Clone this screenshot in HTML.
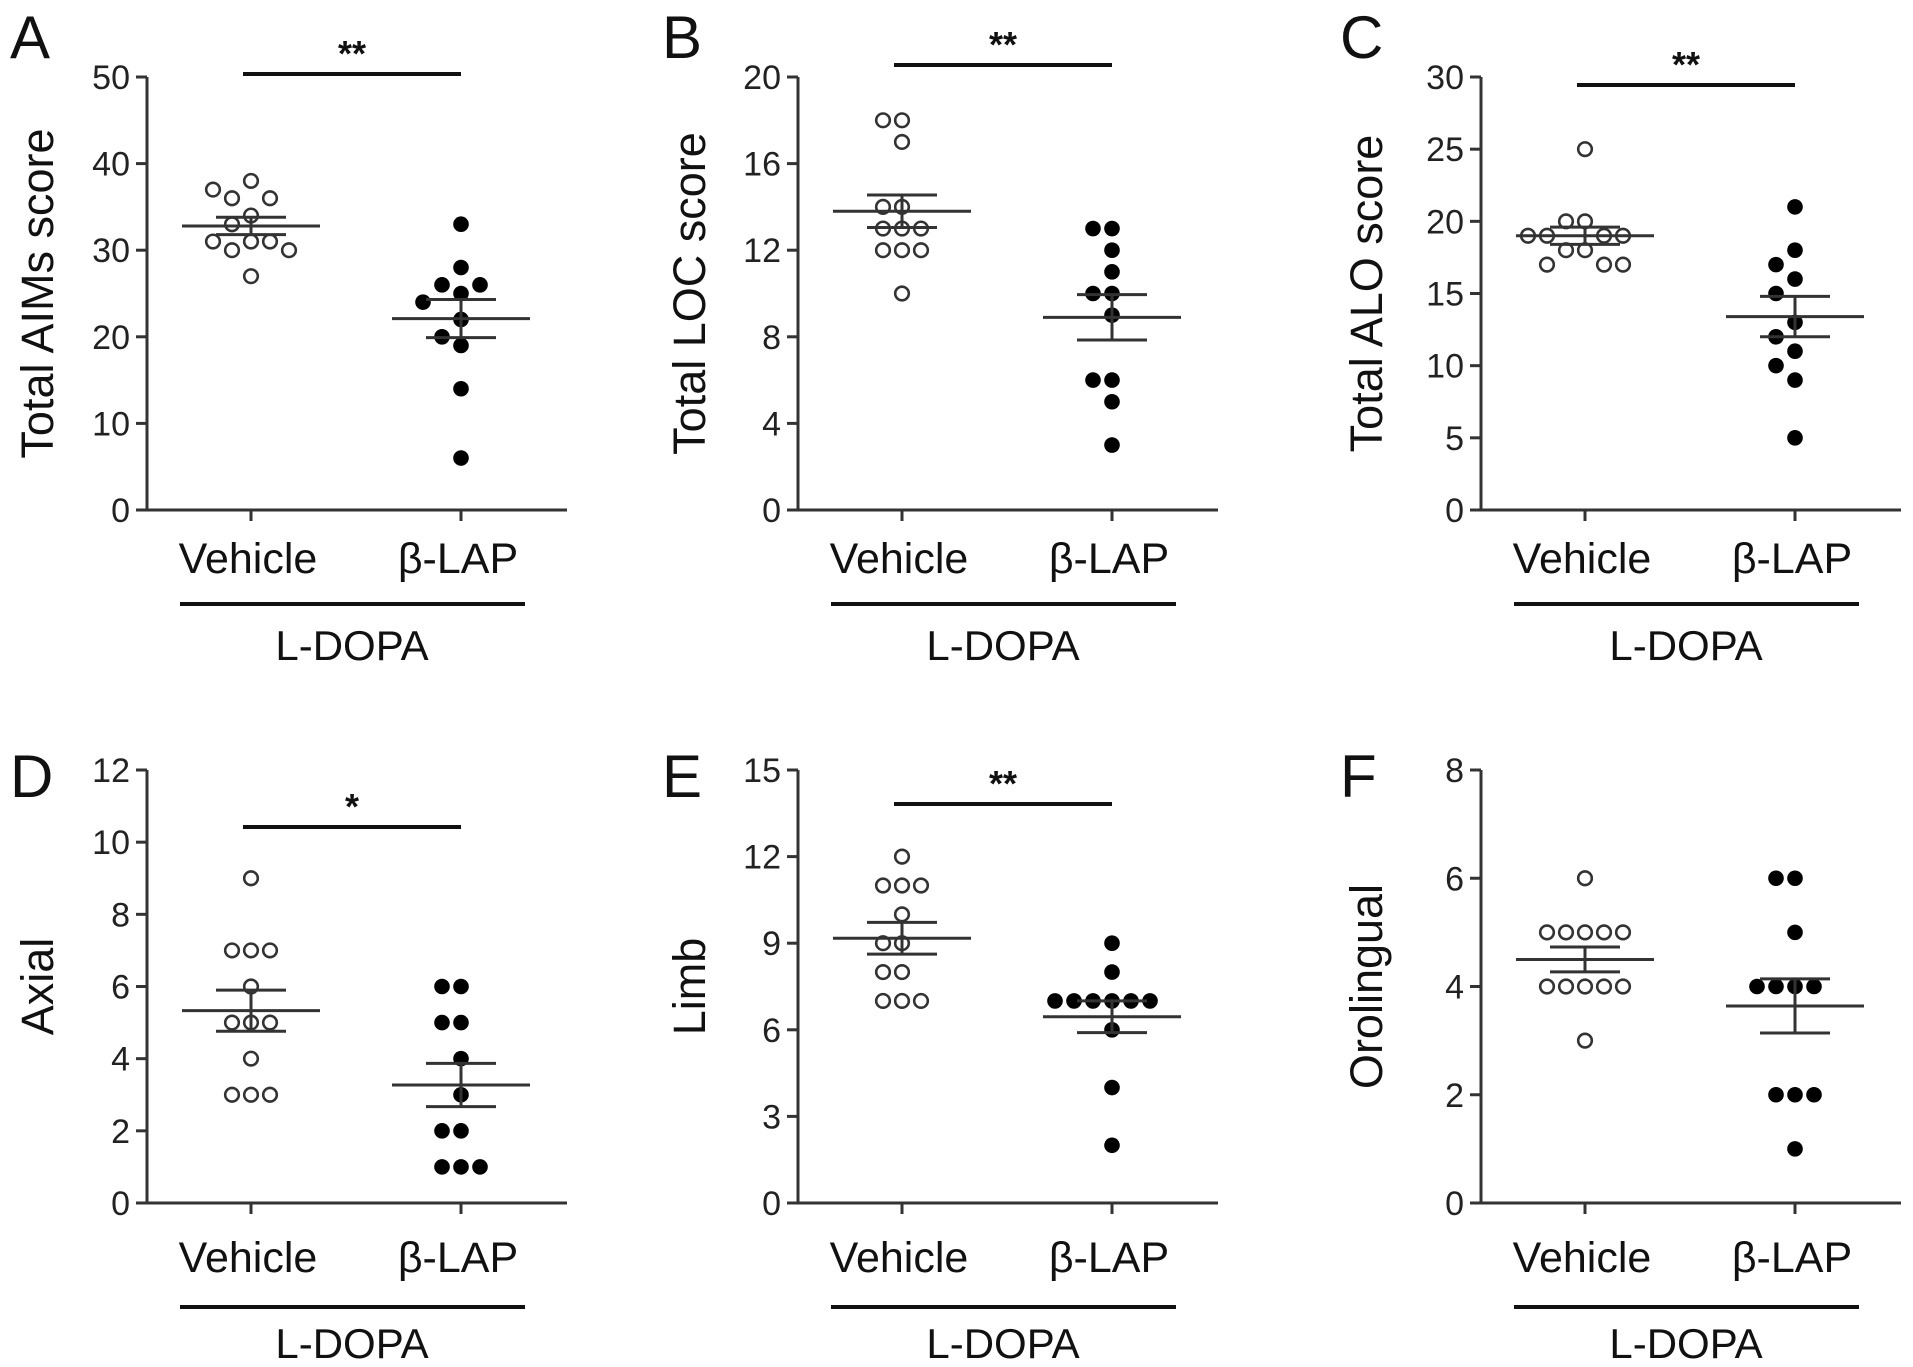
<!DOCTYPE html>
<html><head><meta charset="utf-8">
<style>
html,body{margin:0;padding:0;background:#fff;}
svg{display:block;font-family:"Liberation Sans",Arial,sans-serif;}
</style></head>
<body>
<svg id="fig" width="1913" height="1367" viewBox="0 0 1913 1367" xmlns="http://www.w3.org/2000/svg"></svg>
<script>
const categories = ["Vehicle", "β-LAP"];
const panelLetters = ["A","B","C","D","E","F"];
const yTitles = ["Total AIMs score","Total LOC score","Total ALO score","Axial","Limb","Orolingual"];
const yTicksA = [0,10,20,30,40,50];
const yTicksB = [0,4,8,12,16,20];
const yTicksC = [0,5,10,15,20,25,30];
const yTicksD = [0,2,4,6,8,10,12];
const yTicksE = [0,3,6,9,12,15];
const yTicksF = [0,2,4,6,8];
const vehA = [38,36,36,37,34,33,31,31,31,30,30,27];
const lapA = [33,28,26,26,25,24,22,20,19,14,6];
const vehB = [18,18,17,14,14,13,13,13,12,12,12,10];
const lapB = [13,13,12,11,10,10,9,6,6,5,3];
const vehC = [25,20,20,19,19,19,19,18,18,17,17,17];
const lapC = [21,18,17,16,15,13,12,11,10,9,5];
const vehD = [9,7,7,7,6,5,5,5,4,3,3,3];
const lapD = [6,6,5,5,4,3,2,2,1,1,1];
const vehE = [12,11,11,11,10,9,9,8,8,7,7,7];
const lapE = [9,8,7,7,7,7,7,7,6,4,2];
const vehF = [6,5,5,5,5,5,4,4,4,4,4,3];
const lapF = [6,6,5,4,4,4,4,2,2,2,1];
const meanVeh = [32.8,13.8,19.0,5.33,9.17,4.5];
const semVeh = [1.0,0.75,0.6,0.57,0.55,0.23];
const meanLap = [22.1,8.9,13.4,3.27,6.45,3.64];
const semLap = [2.2,1.05,1.4,0.6,0.55,0.5];
const sigText = ["**","**","**","*","**",""];

const NS="http://www.w3.org/2000/svg";
const svg=document.getElementById('fig');
function mk(tag,attrs,parent,text){
  const e=document.createElementNS(NS,tag);
  for(const k in attrs) e.setAttribute(k,attrs[k]);
  if(text!==undefined) e.textContent=text;
  (parent||svg).appendChild(e);
  return e;
}
const allTicks=[yTicksA,yTicksB,yTicksC,yTicksD,yTicksE,yTicksF];
const allVeh=[vehA,vehB,vehC,vehD,vehE,vehF];
const allLap=[lapA,lapB,lapC,lapD,lapE,lapF];
const axisX=[147,798,1481];
const rowTop=[77,770], rowBot=[510,1203];
const sigY=[74,65,85,827,804,0];
const titleX=[37,689,1366];
const letterX=[10,662,1340];

function swarm(vals,yf,cx,s){
  const placed=[];
  const out=[];
  vals.forEach(v=>{
    const y=yf(v);
    const cands=[0];
    for(let k=1;k<8;k++){cands.push(-k*s,k*s);}
    let dx=0;
    for(const c of cands){
      if(placed.every(p=>Math.hypot(p.x-(cx+c),p.y-y)>=s*0.95)){dx=c;break;}
    }
    placed.push({x:cx+dx,y:y});
    out.push({x:cx+dx,y:y});
  });
  return out;
}

for(let i=0;i<6;i++){
  const col=i%3,row=Math.floor(i/3);
  const ax=axisX[col],top=rowTop[row],bot=rowBot[row];
  const ticks=allTicks[i];
  const ymax=ticks[ticks.length-1];
  const yf=v=>bot-(v/ymax)*(bot-top);
  const xc=[ax+104,ax+314];
  const g=mk('g',{});
  
  
  const L=mk('text',{x:letterX[col],y:row?797:58,'font-size':60,fill:'#111'},g,panelLetters[i]);
  
  
  const ya=mk('line',{x1:ax,y1:top,x2:ax,y2:bot,stroke:'#333','stroke-width':3},g);
  
  
  const xa=mk('line',{x1:ax-10,y1:bot,x2:ax+420,y2:bot,stroke:'#333','stroke-width':3},g);
  
  
  ticks.forEach(t=>{
    const y=yf(t);
    mk('line',{x1:ax-11,y1:y,x2:ax,y2:y,stroke:'#333','stroke-width':3},g);
    const tl=mk('text',{x:ax-17,y:y+12,'font-size':34,'text-anchor':'end',fill:'#222'},g,String(t));
    
    
  });
  xc.forEach((x,j)=>{
    mk('line',{x1:x,y1:bot,x2:x,y2:bot+11,stroke:'#333','stroke-width':3},g);
    const cl=mk('text',{x:x-3,y:row?1272:573,'font-size':43,'text-anchor':'middle',fill:'#111'},g,categories[j]);
    
    
  });
  const yt=mk('text',{x:0,y:0,'font-size':45,'text-anchor':'middle',fill:'#111',transform:`translate(${titleX[col]+16},${(top+bot)/2}) rotate(-90)`},g,yTitles[i]);
  
  
  const br=mk('line',{x1:ax+33,y1:row?1307:604,x2:ax+378,y2:row?1307:604,stroke:'#111','stroke-width':4},g);
  
  
  const lt=mk('text',{x:ax+205,y:row?1358:660,'font-size':42,'text-anchor':'middle',fill:'#111'},g,'L-DOPA');
  
  
  if(sigText[i]){
    const sl=mk('line',{x1:xc[0]-8,y1:sigY[i],x2:xc[1],y2:sigY[i],stroke:'#111','stroke-width':4},g);
    
    
    const st=mk('text',{x:(xc[0]+xc[1])/2-4,y:sigY[i]-8,'font-size':36,'font-weight':'bold','text-anchor':'middle',fill:'#111'},g,sigText[i]);
    
    
  }
  const sets=[allVeh[i],allLap[i]];
  sets.forEach((vals,j)=>{
    swarm(vals,yf,xc[j],19).forEach(p=>{
      const c=mk('circle',{cx:p.x,cy:p.y,r:j?7.8:6.8,fill:j?'#000':'none',stroke:j?'none':'#333','stroke-width':2.6},g);
      
      
    });
  });
  [[meanVeh[i],semVeh[i]],[meanLap[i],semLap[i]]].forEach((ms,j)=>{
    const x=xc[j],m=yf(ms[0]),hi=yf(ms[0]+ms[1]),lo=yf(ms[0]-ms[1]);
    const ml=mk('line',{x1:x-69,y1:m,x2:x+69,y2:m,stroke:'#333','stroke-width':3},g);
    
    
    const el=mk('path',{d:`M${x},${hi}V${lo}M${x-35},${hi}H${x+35}M${x-35},${lo}H${x+35}`,stroke:'#333','stroke-width':3,fill:'none'},g);
    
    
  });
}
</script>
</body></html>
